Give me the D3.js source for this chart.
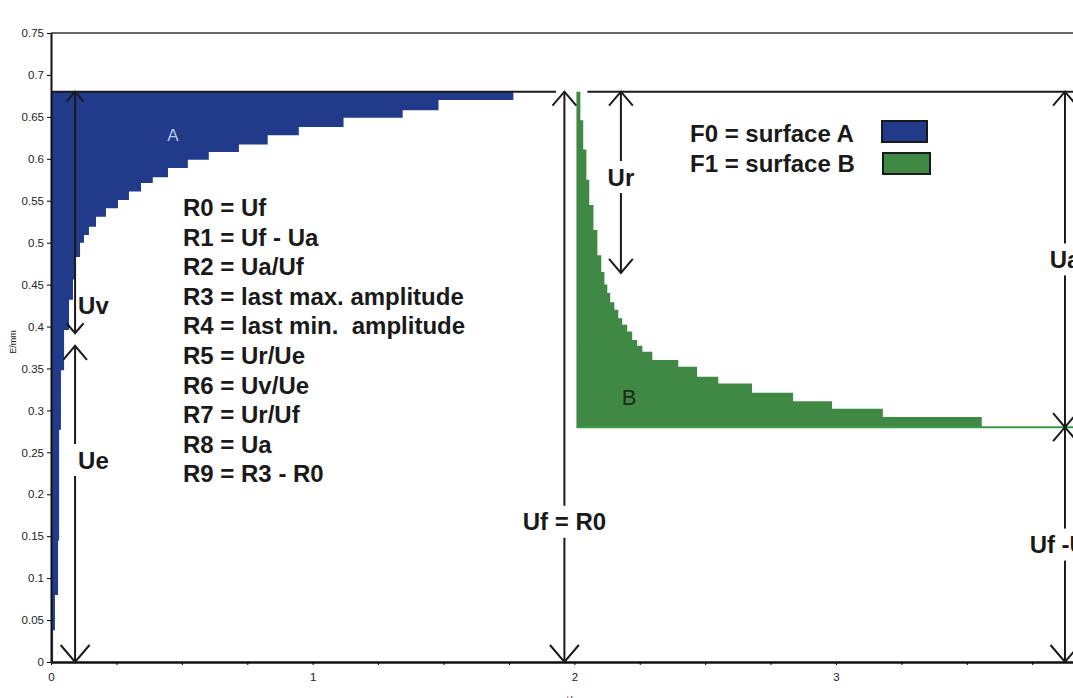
<!DOCTYPE html>
<html>
<head>
<meta charset="utf-8">
<script src="https://cdn.jsdelivr.net/npm/d3@7"></script>
<style>
body { margin: 0; background: #fff; }
svg { display: block; }
text { font-family: "Liberation Sans", Arial, sans-serif; }
</style>
</head>
<body>
<div id="chart"></div>
<script>
var width = 1073;
var height = 698;

// surface A: right edge (s) of each band and the band's lower E level (E/mm)
var aEdgeX = [0.008, 0.015, 0.027, 0.031, 0.038, 0.050, 0.069, 0.084, 0.095, 0.111, 0.126, 0.145, 0.172, 0.210,
              0.256, 0.298, 0.344, 0.389, 0.447, 0.523, 0.603, 0.718, 0.828, 0.947, 1.118, 1.344, 1.481, 1.767];
var aLowE  = [0, 0.038, 0.080, 0.145, 0.277, 0.348, 0.396, 0.432, 0.456, 0.483, 0.500, 0.509, 0.519, 0.531,
              0.541, 0.551, 0.561, 0.571, 0.578, 0.589, 0.599, 0.608, 0.617, 0.628, 0.638, 0.649, 0.658, 0.670];

// surface B: start of recovery, step ends and top level
var bStart = 2.008;
var bEdgeX = [2.023, 2.034, 2.046, 2.057, 2.073, 2.088, 2.103, 2.115, 2.126, 2.137, 2.153, 2.168, 2.183,
              2.202, 2.221, 2.240, 2.260, 2.298, 2.397, 2.469, 2.550, 2.679, 2.836, 2.985, 3.179, 3.557];
var bTopE  = [0.68, 0.646, 0.611, 0.575, 0.545, 0.515, 0.485, 0.465, 0.450, 0.440, 0.429, 0.420, 0.410,
              0.402, 0.394, 0.384, 0.377, 0.370, 0.360, 0.352, 0.340, 0.332, 0.321, 0.311, 0.302, 0.292];

var ufLevel = 0.68;   // Uf
var residual = 0.28;  // Uf - Ua

var yTicks = d3.range(0, 0.751, 0.05);
var xTicks = d3.range(0, 4.01, 0.25);

var formulas = ["R0 = Uf", "R1 = Uf - Ua", "R2 = Ua/Uf", "R3 = last max. amplitude",
                "R4 = last min.\u00a0 amplitude", "R5 = Ur/Ue", "R6 = Uv/Ue", "R7 = Ur/Uf",
                "R8 = Ua", "R9 = R3 - R0"];
var legendText = ["F0 = surface A", "F1 = surface B"];
var colA = "#213a8a";
var colB = "#3f8945";

// arrows: x position, top and bottom E, label
var arrows = [
  {x: 0.092, top: 0.68, bot: 0.392, label: "Uv", head: 10},
  {x: 0.092, top: 0.377, bot: 0, label: "Ue", head: 14},
  {x: 1.962, top: 0.68, bot: 0, label: "Uf = R0", head: 14},
  {x: 2.178, top: 0.68, bot: 0.464, label: "Ur", head: 14},
  {x: 3.875, top: 0.68, bot: 0.28, label: "Ua", head: 14},
  {x: 3.875, top: 0.28, bot: 0, label: "Uf -Ua", head: 14}
];

var x = d3.scaleLinear().domain([0, 4.2]).range([51, 51 + 4.2 * 261.67]);
var y = d3.scaleLinear().domain([0, 0.75]).range([662, 33]);

var svg = d3.select("#chart")
            .append("svg")
            .attr("width", width)
            .attr("height", height);

// frame line at top
svg.append("line")
   .attr("x1", x(0)).attr("x2", x(4.2))
   .attr("y1", y(0.75)).attr("y2", y(0.75))
   .style("stroke", "#333").style("stroke-width", 1.5);

// surface A
var aPoints = [[0, 0]].concat(aEdgeX.map(function(d, i){ return [d, aLowE[i]]; }));
var areaA = d3.area()
              .x(function(d){ return x(d[0]); })
              .y0(y(ufLevel))
              .y1(function(d){ return y(d[1]); })
              .curve(d3.curveStepBefore);
svg.append("path")
   .datum(aPoints)
   .attr("d", areaA)
   .style("fill", colA);

// surface B
var bPoints = [[bStart, ufLevel]].concat(bEdgeX.map(function(d, i){ return [d, bTopE[i]]; }));
var areaB = d3.area()
              .x(function(d){ return x(d[0]); })
              .y0(y(residual))
              .y1(function(d){ return y(d[1]); })
              .curve(d3.curveStepBefore);
svg.append("path")
   .datum(bPoints)
   .attr("d", areaB)
   .style("fill", colB);

// residual level continues as a thin line
svg.append("line")
   .attr("x1", x(bStart)).attr("x2", x(4.2))
   .attr("y1", y(residual)).attr("y2", y(residual))
   .style("stroke", "#3c9a44").style("stroke-width", 2);

// Uf level line
[[0, 1.93], [2.05, 4.2]].forEach(function(s){
  svg.append("line")
     .attr("x1", x(s[0])).attr("x2", x(s[1]))
     .attr("y1", y(ufLevel)).attr("y2", y(ufLevel))
     .style("stroke", "#1a1a1a").style("stroke-width", 2);
});

// axes
var yAxis = d3.axisLeft(y)
              .tickValues(yTicks)
              .tickSize(4)
              .tickSizeOuter(0)
              .tickFormat(d3.format(".2~f"));
var gy = svg.append("g").attr("transform", "translate(" + x(0) + ",0)").call(yAxis);
gy.select(".domain").style("stroke", "#111").style("stroke-width", 2);
gy.selectAll("text").style("font-size", "11.5px").style("fill", "#222");

var xAxis = d3.axisBottom(x)
              .tickValues(xTicks)
              .tickSize(3)
              .tickSizeOuter(0)
              .tickFormat(function(d){ return Number.isInteger(d) ? d : ""; });
var gx = svg.append("g").attr("transform", "translate(0," + y(0) + ")").call(xAxis);
gx.select(".domain").style("stroke", "#111").style("stroke-width", 2.5);
gx.selectAll("text").style("font-size", "11.5px").style("fill", "#222").attr("dy", "1.1em");

svg.append("text")
   .attr("transform", "translate(16,342) rotate(-90)")
   .attr("text-anchor", "middle")
   .style("font-size", "9px")
   .style("fill", "#222")
   .text("E/mm");
svg.append("text")
   .attr("x", 572).attr("y", 704)
   .attr("text-anchor", "middle")
   .style("font-size", "11px")
   .style("fill", "#222")
   .text("t/s");

// arrows
function vHead(px, py, dir, h){
  var w = h * 0.85;
  return "M" + (px - w) + "," + (py - dir * h) + "L" + px + "," + py + "L" + (px + w) + "," + (py - dir * h);
}
arrows.forEach(function(a){
  var px = x(a.x), yt = y(a.top), yb = y(a.bot);
  var g = svg.append("g").style("stroke", "#1a1a1a").style("stroke-width", 2).style("fill", "none");
  var side = a.label === "Uv" || a.label === "Ue";
  var ly = side ? (a.label === "Uv" ? 305 : 460) : (a.label === "Ur" ? 177 : (yt + yb) / 2 + (a.label === "Uf = R0" ? 145 : 0));
  if (a.label === "Uv") {
    g.append("line").attr("x1", px).attr("x2", px).attr("y1", yt).attr("y2", yb);
  } else {
    g.append("line").attr("x1", px).attr("x2", px).attr("y1", yt).attr("y2", ly - 16);
    g.append("line").attr("x1", px).attr("x2", px).attr("y1", ly + 16).attr("y2", yb);
  }
  g.append("path").attr("d", vHead(px, yt, -1, a.head));
  g.append("path").attr("d", vHead(px, yb, 1, a.head + (a.bot === 0 ? 3 : 0)));
  svg.append("text")
     .attr("x", side ? px + 3 : px)
     .attr("y", ly + 8.5)
     .attr("text-anchor", side ? "start" : "middle")
     .style("font-size", "24px")
     .style("font-weight", "bold")
     .style("fill", "#1a1a1a")
     .text(a.label);
});

// surface labels
svg.append("text")
   .attr("x", 173).attr("y", 141)
   .attr("text-anchor", "middle")
   .style("font-size", "17px")
   .style("fill", "#b4cdf2")
   .text("A");
svg.append("text")
   .attr("x", 629).attr("y", 405)
   .attr("text-anchor", "middle")
   .style("font-size", "22px")
   .style("fill", "#1d2a1d")
   .text("B");

// formula list
svg.append("g").selectAll("text")
   .data(formulas)
   .enter()
   .append("text")
   .attr("x", 183)
   .attr("y", function(d, i){ return 216 + i * 29.6; })
   .style("font-size", "24px")
   .style("font-weight", "bold")
   .style("fill", "#1a1a1a")
   .text(function(d){ return d; });

// legend
var legend = svg.append("g");
legend.selectAll("text")
      .data(legendText)
      .enter()
      .append("text")
      .attr("x", 690)
      .attr("y", function(d, i){ return 142 + i * 30; })
      .style("font-size", "24px")
      .style("font-weight", "bold")
      .style("fill", "#1a1a1a")
      .text(function(d){ return d; });
legend.selectAll("rect")
      .data([colA, colB])
      .enter()
      .append("rect")
      .attr("x", function(d, i){ return 882 + i; })
      .attr("y", function(d, i){ return 121 + i * 32; })
      .attr("width", function(d, i){ return 45 + i * 2; })
      .attr("height", 21)
      .style("fill", String)
      .style("stroke", "#1a1a1a")
      .style("stroke-width", 2);
</script>
</body>
</html>
